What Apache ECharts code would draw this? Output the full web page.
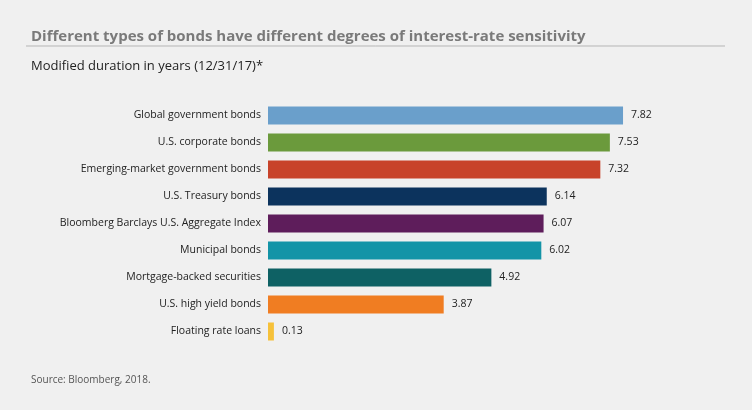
<!DOCTYPE html>
<html>
<head>
<meta charset="utf-8">
<script src="https://cdn.jsdelivr.net/npm/echarts@6/dist/echarts.min.js"></script>
<style>
  body { margin: 0; background: #f0f0f0; }
  #chart { width: 752px; height: 410px; }
</style>
</head>
<body>
<div id="chart"></div>
<script>
var categories = ['Global government bonds', 'U.S. corporate bonds', 'Emerging-market government bonds',
  'U.S. Treasury bonds', 'Bloomberg Barclays U.S. Aggregate Index', 'Municipal bonds',
  'Mortgage-backed securities', 'U.S. high yield bonds', 'Floating rate loans'];
var values = [7.82, 7.53, 7.32, 6.14, 6.07, 6.02, 4.92, 3.87, 0.13];
var colors = ['#6a9fcb', '#6b9a3c', '#c8432a', '#0c335d', '#5e1d5b', '#1394a7', '#0e6164', '#f07d22', '#f6c13a'];

var chart = echarts.init(document.getElementById('chart'));
chart.setOption({
  backgroundColor: '#f0f0f0',
  textStyle: { fontFamily: 'Open Sans' },
  title: [
    { text: 'Different types of bonds have different degrees of interest-rate sensitivity', left: 26, top: 24,
      textStyle: { fontSize: 15, fontWeight: 'bold', color: '#7a7a7a' } },
    { text: 'Modified duration in years (12/31/17)*', left: 26, top: 55,
      textStyle: { fontSize: 13, fontWeight: 'normal', color: '#222' } },
    { text: 'Source: Bloomberg, 2018.', left: 26, top: 370,
      textStyle: { fontSize: 10, fontWeight: 'normal', color: '#555' } }
  ],
  graphic: [{ type: 'line', shape: { x1: 26, y1: 46, x2: 725, y2: 46 }, style: { stroke: '#b5b5b5', lineWidth: 1 } }],
  grid: { left: 268, right: 30, top: 102, height: 243 },
  xAxis: { type: 'value', min: 0, max: 10, show: false },
  yAxis: {
    type: 'category', data: categories, inverse: true,
    axisLine: { show: false }, axisTick: { show: false },
    axisLabel: { fontSize: 10.5, color: '#222', margin: 7 }
  },
  series: [{
    type: 'bar', barWidth: 18,
    data: values.map(function (v, i) { return { value: v, itemStyle: { color: colors[i] } }; }),
    label: { show: true, position: 'right', distance: 8, fontSize: 10.5, color: '#222',
      formatter: function (p) { return p.value.toFixed(2); } }
  }]
});
</script>
</body>
</html>
